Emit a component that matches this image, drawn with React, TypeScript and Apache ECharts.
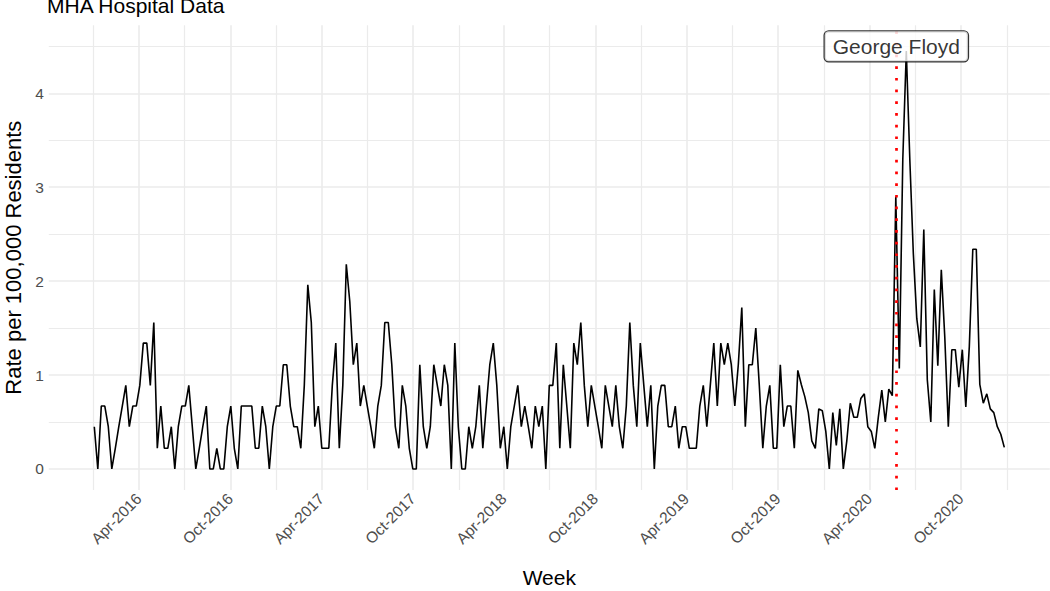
import React, { useEffect, useRef } from "react";
import * as echarts from "echarts";

const chartTitle = "MHA Hospital Data";
const xTitle = "Week";
const yTitle = "Rate per 100,000 Residents";
const firstWeek = "2016-01-03";

const rateValues = [
  0.45, 0, 0.67, 0.67, 0.45, 0, 0.22, 0.45, 0.67, 0.89,
  0.45, 0.67, 0.67, 0.89, 1.34, 1.34, 0.89, 1.56, 0.22, 0.67,
  0.22, 0.22, 0.45, 0, 0.45, 0.67, 0.67, 0.89, 0.45, 0,
  0.22, 0.45, 0.67, 0, 0, 0.22, 0, 0, 0.45, 0.67,
  0.22, 0, 0.67, 0.67, 0.67, 0.67, 0.22, 0.22, 0.67, 0.45,
  0, 0.45, 0.67, 0.67, 1.11, 1.11, 0.67, 0.45, 0.45, 0.22,
  0.89, 1.96, 1.56, 0.45, 0.67, 0.22, 0.22, 0.22, 0.89, 1.34,
  0.22, 0.89, 2.18, 1.78, 1.11, 1.34, 0.67, 0.89, 0.67, 0.45,
  0.22, 0.67, 0.89, 1.56, 1.56, 1.11, 0.45, 0.22, 0.89, 0.67,
  0.22, 0, 0, 1.11, 0.45, 0.22, 0.45, 1.11, 0.89, 0.67,
  1.11, 0.89, 0, 1.34, 0.45, 0, 0, 0.45, 0.22, 0.45,
  0.89, 0.22, 0.67, 1.11, 1.34, 0.89, 0.22, 0.45, 0, 0.45,
  0.67, 0.89, 0.45, 0.67, 0.45, 0.22, 0.67, 0.45, 0.67, 0,
  0.89, 0.89, 1.34, 0.22, 1.11, 0.67, 0.22, 1.34, 1.11, 1.56,
  0.89, 0.45, 0.89, 0.67, 0.45, 0.22, 0.89, 0.67, 0.45, 0.89,
  0.45, 0.22, 0.67, 1.56, 0.89, 0.45, 1.34, 0.89, 0.45, 0.89,
  0, 0.67, 0.89, 0.89, 0.45, 0.45, 0.67, 0.22, 0.45, 0.45,
  0.22, 0.22, 0.22, 0.67, 0.89, 0.45, 0.89, 1.34, 0.67, 1.34,
  1.11, 1.34, 1.11, 0.67, 1.11, 1.72, 0.45, 1.11, 1.11, 1.5,
  0.89, 0.22, 0.67, 0.89, 0.22, 0.22, 1.11, 0.45, 0.67, 0.67,
  0.22, 1.05, 0.9, 0.77, 0.6, 0.3, 0.22, 0.64, 0.62, 0.4,
  0, 0.6, 0.25, 0.64, 0, 0.3, 0.7, 0.55, 0.55, 0.75,
  0.8, 0.45, 0.4, 0.22, 0.55, 0.84, 0.5, 0.85, 0.78, 2.9,
  1.07, 3.3, 4.45, 3.3, 2.3, 1.6, 1.3, 2.55, 0.95, 0.5,
  1.91, 1.1, 2.12, 1.4, 0.45, 1.27, 1.27, 0.87, 1.27, 0.66,
  1.3, 2.34, 2.34, 0.9, 0.7, 0.8, 0.64, 0.6, 0.45, 0.37,
  0.23,
];

const majorBreaks = [
  "2016-04-01", "2016-10-01", "2017-04-01", "2017-10-01", "2018-04-01",
  "2018-10-01", "2019-04-01", "2019-10-01", "2020-04-01", "2020-10-01",
];
const minorBreaks = [
  "2016-01-01", "2016-07-01", "2017-01-01", "2017-07-01", "2018-01-01",
  "2018-07-01", "2019-01-01", "2019-07-01", "2020-01-01", "2020-07-01",
  "2021-01-01",
];
const yMajor = [0, 1, 2, 3, 4];
const yMinor = [0.5, 1.5, 2.5, 3.5, 4.5];
const xRange = ["2015-10-04", "2021-03-28"];
const yRange = [-0.225, 4.725];
const eventDate = "2020-05-25";
const eventLabel = "George Floyd";
const eventLabelY = 4.5;
const monthNames = ["Jan", "Feb", "Mar", "Apr", "May", "Jun", "Jul", "Aug", "Sep", "Oct", "Nov", "Dec"];

const FONT = "'Liberation Sans', Arial, sans-serif";
const DAY = 86400000;
const ts = (s: string) => new Date(s + "T00:00:00Z").getTime();

export default function App() {
  const ref = useRef<HTMLDivElement>(null);

  useEffect(() => {
    if (!ref.current) return;
    const chart = echarts.init(ref.current, undefined, { renderer: "svg" });
    const start = ts(firstWeek);
    const lineData = rateValues.map((v, i) => [start + i * 7 * DAY, v]);

    const grid = {
      left: 48.8,
      right: 0.2,
      top: 25.2,
      bottom: 100.9,
      containLabel: false,
      outerBoundsMode: "none",
    };

    chart.setOption({
      animation: false,
      backgroundColor: "#ffffff",
      title: {
        text: chartTitle,
        left: 47,
        top: -5,
        padding: 0,
        textStyle: { fontFamily: FONT, fontSize: 21, fontWeight: "normal", color: "#000000" },
      },
      grid,
      xAxis: [
        {
          type: "value",
          min: ts(xRange[0]),
          max: ts(xRange[1]),
          position: "bottom",
          axisLine: { show: false },
          axisTick: { show: false, customValues: majorBreaks.map(ts) },
          axisLabel: {
            customValues: majorBreaks.map(ts),
            rotate: 45,
            margin: 6,
            fontFamily: FONT,
            fontSize: 15.5,
            color: "#4D4D4D",
            formatter: (val: number) => {
              const d = new Date(val);
              return monthNames[d.getUTCMonth()] + "-" + d.getUTCFullYear();
            },
          },
          splitLine: { show: true, lineStyle: { color: "#EBEBEB", width: 1.6 } },
          name: xTitle,
          nameLocation: "middle",
          nameGap: 77,
          nameTextStyle: { fontFamily: FONT, fontSize: 21, color: "#000000" },
        },
        {
          type: "value",
          min: ts(xRange[0]),
          max: ts(xRange[1]),
          position: "bottom",
          axisLine: { show: false },
          axisTick: { show: false, customValues: minorBreaks.map(ts) },
          axisLabel: { show: false, customValues: minorBreaks.map(ts) },
          splitLine: { show: true, lineStyle: { color: "#EBEBEB", width: 1.2 } },
        },
      ],
      yAxis: [
        {
          type: "value",
          min: yRange[0],
          max: yRange[1],
          axisLine: { show: false },
          axisTick: { show: false, customValues: yMajor },
          axisLabel: {
            customValues: yMajor,
            margin: 5,
            fontFamily: FONT,
            fontSize: 15.5,
            color: "#4D4D4D",
          },
          splitLine: { show: true, lineStyle: { color: "#EBEBEB", width: 1.6 } },
          name: yTitle,
          nameLocation: "middle",
          nameGap: 23,
          nameTextStyle: { fontFamily: FONT, fontSize: 22, color: "#000000" },
        },
        {
          type: "value",
          min: yRange[0],
          max: yRange[1],
          position: "left",
          axisLine: { show: false },
          axisTick: { show: false, customValues: yMinor },
          axisLabel: { show: false, customValues: yMinor },
          splitLine: { show: true, lineStyle: { color: "#EBEBEB", width: 1.2 } },
        },
      ],
      series: [
        {
          type: "line",
          xAxisIndex: 0,
          yAxisIndex: 0,
          data: lineData,
          showSymbol: false,
          symbol: "none",
          lineStyle: { color: "#000000", width: 1.6 },
          z: 3,
          markLine: {
            silent: true,
            symbol: ["none", "none"],
            label: { show: false },
            lineStyle: { color: "#FF0000", width: 2.7, type: [2.7, 9] },
            data: [{ xAxis: ts(eventDate) }],
            z: 4,
          },
        },
        {
          type: "scatter",
          xAxisIndex: 0,
          yAxisIndex: 0,
          data: [[ts(eventDate), eventLabelY]],
          symbolSize: 1,
          itemStyle: { color: "rgba(0,0,0,0)" },
          z: 10,
          label: {
            show: true,
            position: "inside",
            formatter: eventLabel,
            fontFamily: FONT,
            fontSize: 21,
            color: "#000000",
            backgroundColor: "#FFFFFF",
            borderColor: "#000000",
            borderWidth: 1.2,
            borderRadius: 4,
            padding: [5, 8, 4, 8],
          },
        },
      ],
    });

    return () => chart.dispose();
  }, []);

  return (
    <div
      ref={ref}
      style={{ position: "fixed", left: 0, top: 0, width: 1050, height: 591 }}
    />
  );
}
